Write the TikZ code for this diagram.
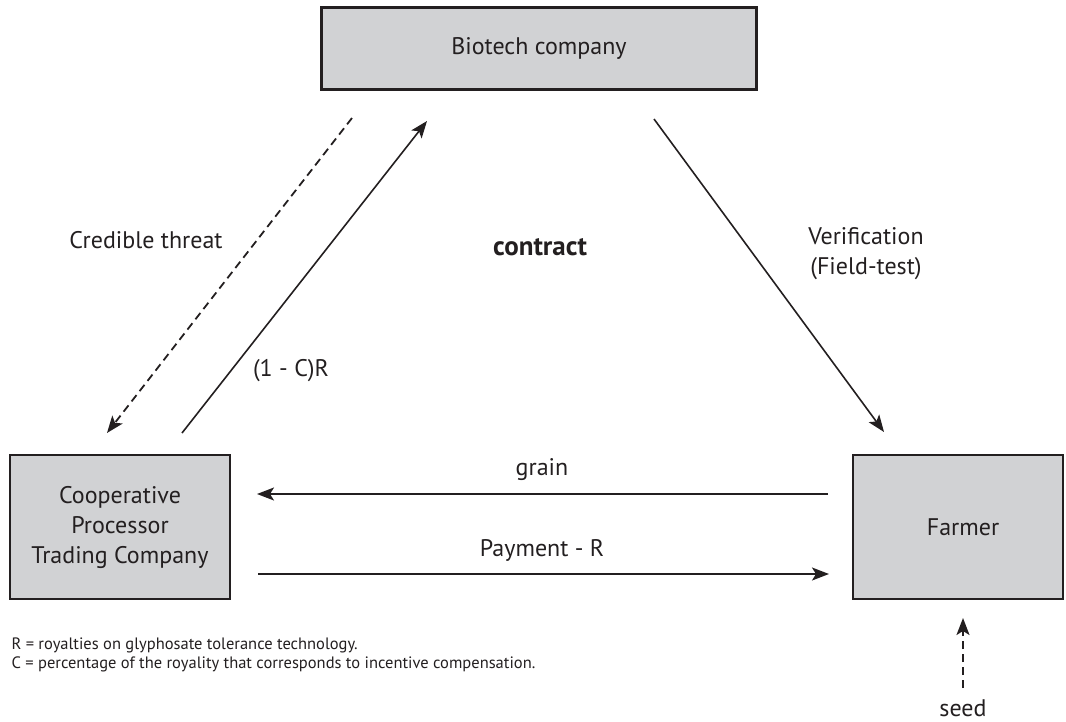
\documentclass[tikz,border=0pt]{standalone}
\usepackage{fontspec}
\setmainfont{PT Sans}
\usetikzlibrary{arrows.meta}
\definecolor{boxfill}{HTML}{D1D2D4}
\definecolor{ink}{HTML}{231F20}
\tikzset{
  box/.style={draw=ink, line width=2.5pt, fill=boxfill, text=ink, align=center, font=\fontsize{24}{30}\selectfont},
  lbl/.style={text=ink, font=\fontsize{24}{30}\selectfont, align=center},
  note/.style={text=ink, font=\fontsize{16.5}{19}\selectfont, anchor=west},
  conn/.style={draw=ink, line width=1.6pt, -{Stealth[length=17pt,width=13pt,inset=4pt]}},
  dconn/.style={conn, line width=1.8pt, dash pattern=on 8pt off 5pt}
}
\begin{document}
\begin{tikzpicture}[x=1pt,y=-1pt]
\useasboundingbox (0,0) rectangle (1066,721);
\node[box, minimum width=435pt, minimum height=82pt] (bio) at (539,48.5) {Biotech company};
\node[box, minimum width=220pt, minimum height=144pt] (coop) at (120,527) {Cooperative\\Processor\\Trading Company};
\node[box, minimum width=210pt, minimum height=144pt] (farm) at (958,527) {\hspace*{10pt}Farmer};

\coordinate (ctS) at (352,118);
\coordinate (ctE) at (107,433);
\coordinate (crS) at (182,433);
\coordinate (crE) at (427,121);
\coordinate (vS) at (654,119);
\coordinate (vE) at (884,432);
\coordinate (gS) at (828,494);
\coordinate (gE) at (257,494);
\coordinate (pS) at (258,574);
\coordinate (pE) at (829,574);
\coordinate (sS) at (963,688);
\coordinate (sE) at (963,618);

\draw[dconn] (ctS) -- (ctE);
\draw[conn] (crS) -- (crE);
\draw[conn] (vS) -- (vE);
\draw[conn] (gS) -- (gE);
\draw[conn] (pS) -- (pE);
\draw[dconn] (sS) -- (sE);

\node[lbl] (lct) at (146,240) {Credible threat};
\node[lbl] (lcr) at (291,371) {(1 - C)R};
\node[lbl, font=\fontsize{27}{32}\bfseries] (lcon) at (540,247) {contract};
\node[lbl] (lver) at (866,254) {Verification\\(Field-test)};
\node[lbl] (lgr) at (542,470) {grain};
\node[lbl] (lpay) at (542,550) {Payment - R};
\node[lbl] (lseed) at (963,708) {seed};
\node[note] (n1) at (8,645) {R = royalties on glyphosate tolerance technology.};
\node[note] (n2) at (8,664) {C = percentage of the royality that corresponds to incentive compensation.};
\end{tikzpicture}
\end{document}
